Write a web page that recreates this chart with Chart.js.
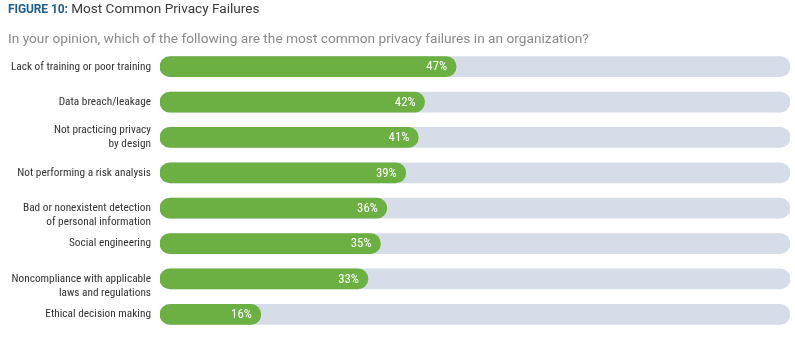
<!DOCTYPE html>
<html>
<head>
<meta charset="utf-8">
<script src="https://cdn.jsdelivr.net/npm/chart.js@4/dist/chart.umd.min.js"></script>
<style>
  html, body { margin: 0; padding: 0; background: #ffffff; }
  #wrap { position: relative; width: 795px; height: 344px; overflow: hidden; }
  #title { position: absolute; left: 8px; top: 0px; font-family: Roboto, sans-serif; font-size: 13.6px; color: #3a3a3a; white-space: nowrap; line-height: 17px; }
  #title b { color: #1f5f8f; font-weight: 700; font-size: 12px; letter-spacing: -0.1px; }
  #subtitle { position: absolute; left: 8px; top: 29px; font-family: Roboto, sans-serif; font-size: 13.7px; color: #8a8a8a; white-space: nowrap; line-height: 19px; }
  #chart { position: absolute; left: 0; top: 0; }
</style>
</head>
<body>
<div id="wrap">
  <canvas id="chart" width="795" height="344"></canvas>
  <div id="title"><b>FIGURE 10:</b> Most Common Privacy Failures</div>
  <div id="subtitle">In your opinion, which of the following are the most common privacy failures in an organization?</div>
</div>
<script>
// Survey answers, share of respondents (%)
const categories = [
  'Lack of training or poor training',
  'Data breach/leakage',
  ['Not practicing privacy', 'by design'],
  'Not performing a risk analysis',
  ['Bad or nonexistent detection', 'of personal information'],
  'Social engineering',
  ['Noncompliance with applicable', 'laws and regulations'],
  'Ethical decision making'
];
const shares = [47, 42, 41, 39, 36, 35, 33, 16];
const trackFull = [100, 100, 100, 100, 100, 100, 100, 100];

// Two-line labels whose first line sits level with the bar instead of centred on it
const hangingLabels = [4, 6];

const labelFont = '"Liberation Sans Narrow", "Roboto Condensed", "DejaVu Sans Condensed", Roboto, sans-serif';

// Writes the percentage inside the right end of each green bar
const valueLabels = {
  id: 'valueLabels',
  afterDatasetsDraw(chart) {
    const ctx = chart.ctx;
    const meta = chart.getDatasetMeta(0);
    ctx.save();
    ctx.fillStyle = '#ffffff';
    ctx.font = '12.8px ' + labelFont;
    ctx.textAlign = 'right';
    ctx.textBaseline = 'middle';
    meta.data.forEach((bar, i) => {
      ctx.fillText(shares[i] + '%', bar.x - 9, bar.y + 0.5);
    });
    ctx.restore();
  }
};

new Chart(document.getElementById('chart'), {
  type: 'bar',
  data: {
    labels: categories,
    datasets: [
      {
        data: shares,
        backgroundColor: '#6cb043',
        borderRadius: 10,
        borderSkipped: false,
        barThickness: 20,
        grouped: false
      },
      {
        data: trackFull,
        backgroundColor: '#d6dde9',
        borderRadius: 10,
        borderSkipped: false,
        barThickness: 20,
        grouped: false
      }
    ]
  },
  options: {
    indexAxis: 'y',
    responsive: false,
    animation: false,
    events: [],
    layout: { padding: { top: 49, bottom: 12, left: 0, right: 5 } },
    plugins: { legend: { display: false }, tooltip: { enabled: false } },
    scales: {
      x: {
        min: 0, max: 100,
        display: false
      },
      y: {
        grid: { display: false },
        border: { display: false },
        afterFit(scale) { scale.width = 160; },
        ticks: {
          autoSkip: false,
          color: '#333333',
          padding: 1,
          font: { family: labelFont, size: 11.3, lineHeight: 1.28 },
          callback(value, index) {
            const lab = categories[index];
            // a blank lead line pushes the first text line onto the bar's centre
            return hangingLabels.includes(index) ? [''].concat(lab) : lab;
          }
        }
      }
    }
  },
  plugins: [valueLabels]
});
</script>
</body>
</html>
